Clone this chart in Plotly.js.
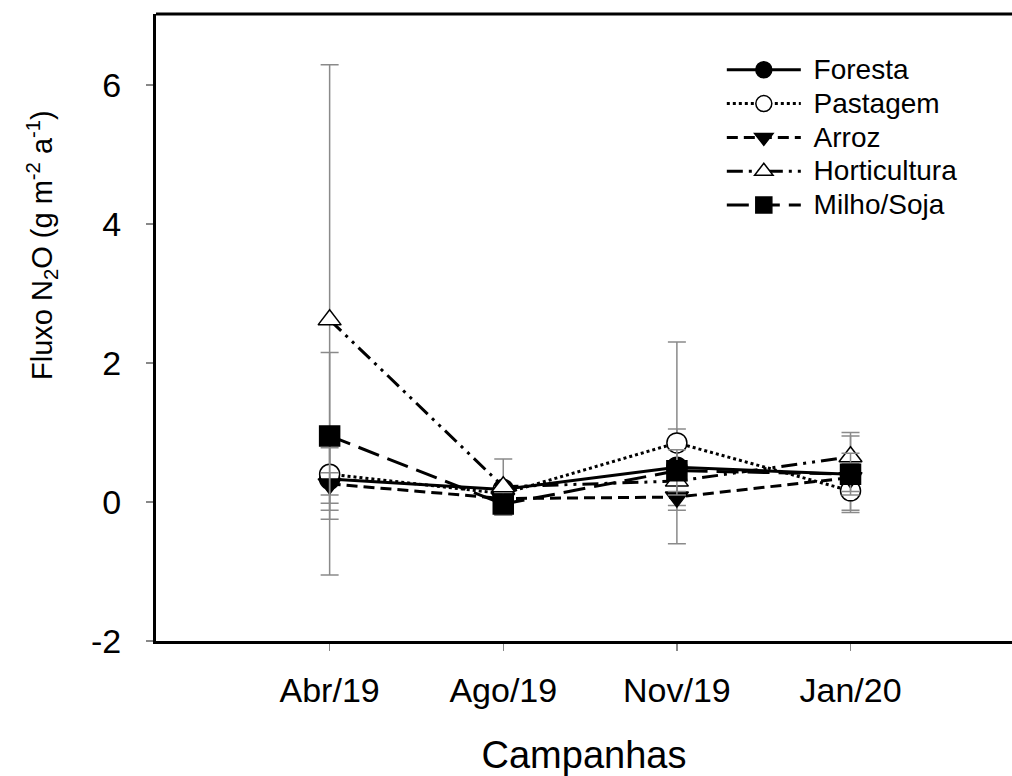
<!DOCTYPE html>
<html>
<head>
<meta charset="utf-8">
<script src="https://cdn.plot.ly/plotly-3.0.1.min.js"></script>
<style>
  html, body { margin: 0; padding: 0; background: #fff; overflow: hidden; }
  #chart { width: 1012px; height: 776px; }
</style>
</head>
<body>
<div id="chart"></div>
<script>
// Sampling campaigns
const campanhas = ['Abr/19', 'Ago/19', 'Nov/19', 'Jan/20'];

// Y axis ticks (labels written with a plain hyphen)
const yTickVals = [-2, 0, 2, 4, 6];
const yTickText = ['-2', '0', '2', '4', '6'];

// Mean N2O flux (g m-2 a-1) per land use, with error bar half-widths
const foresta      = [0.33, 0.18, 0.50, 0.40];
const forestaErr   = [0.45, 0.08, 0.55, 0.55];
const pastagem     = [0.40, 0.12, 0.85, 0.16];
const pastagemErr  = [0.42, 0.10, 1.45, 0.28];
const arroz        = [0.26, 0.05, 0.07, 0.35];
const arrozErr     = [0.16, 0.08, 0.19, 0.20];
const horticultura    = [2.62, 0.22, 0.30, 0.65];
const horticulturaErr = [3.67, 0.40, 0.20, 0.35];
const milhoSoja    = [0.95, -0.03, 0.45, 0.40];
const milhoSojaErr = [1.20, 0.16, 0.30, 0.30];

const FONT = 'Liberation Sans, Arial, sans-serif';
const errStyle = { type: 'data', visible: true, color: '#8a8a8a', thickness: 1.5, width: 9 };

// Legend labels use a larger span font than the row-height font
function legendLabel(name) {
  return '<span style="font-size:28px">\u00a0' + name + '</span>';
}

function series(name, y, err, dash, symbol, fill) {
  return {
    type: 'scatter', mode: 'lines+markers', name: legendLabel(name),
    x: campanhas, y: y,
    error_y: Object.assign({ array: err }, errStyle),
    line: { color: '#000', width: 3, dash: dash },
    marker: { symbol: symbol, size: 20, color: fill, line: { color: '#000', width: 1.5 } }
  };
}

const traces = [
  series('Foresta', foresta, forestaErr, 'solid', 'circle', '#000'),
  series('Pastagem', pastagem, pastagemErr, 'dot', 'circle', '#fff'),
  series('Arroz', arroz, arrozErr, '11px,6px', 'triangle-down', '#000'),
  series('Horticultura', horticultura, horticulturaErr, '16px,6px,3px,6px,3px,6px', 'triangle-up', '#fff'),
  series('Milho/Soja', milhoSoja, milhoSojaErr, '22px,9px', 'square', '#000')
];

const layout = {
  width: 1012, height: 776,
  margin: { l: 156, r: 0, t: 14, b: 135 },
  paper_bgcolor: '#fff', plot_bgcolor: '#fff',
  font: { family: FONT, color: '#000' },
  showlegend: true,
  legend: {
    x: 0.661, y: 0.946, xanchor: 'left', yanchor: 'top',
    bgcolor: 'rgba(0,0,0,0)', borderwidth: 0,
    font: { family: FONT, size: 23.7, color: '#000' },
    itemwidth: 74, itemsizing: 'trace'
  },
  xaxis: {
    type: 'category', range: [-1, 3.93],
    showgrid: false, zeroline: false,
    showline: true, linecolor: '#000', linewidth: 3,
    ticks: 'outside', ticklen: 7, tickwidth: 1.5, tickcolor: '#888',
    ticklabelstandoff: 10,
    tickfont: { family: FONT, size: 34, color: '#000' },
    title: { text: 'Campanhas', font: { family: FONT, size: 38, color: '#000' }, standoff: 34 }
  },
  yaxis: {
    range: [-2, 7.02],
    tickvals: yTickVals, ticktext: yTickText,
    showgrid: false, zeroline: false,
    showline: true, linecolor: '#000', linewidth: 3,
    ticks: 'outside', ticklen: 7, tickwidth: 1.5, tickcolor: '#888',
    ticklabelstandoff: 18,
    tickfont: { family: FONT, size: 34, color: '#000' }
  },
  shapes: [
    { type: 'line', xref: 'paper', yref: 'paper', x0: 0, x1: 1, y0: 1, y1: 1,
      line: { color: '#000', width: 3 } }
  ],
  annotations: [
    { xref: 'paper', yref: 'paper', x: -0.134, y: 0.632, textangle: -90,
      xanchor: 'center', yanchor: 'middle', showarrow: false,
      text: 'Fluxo N<sub>2</sub>O (g m<sup>-2</sup> a<sup>-1</sup>)',
      font: { family: FONT, size: 29, color: '#000' } }
  ]
};

Plotly.newPlot('chart', traces, layout, { displayModeBar: false, staticPlot: true });
</script>
</body>
</html>
